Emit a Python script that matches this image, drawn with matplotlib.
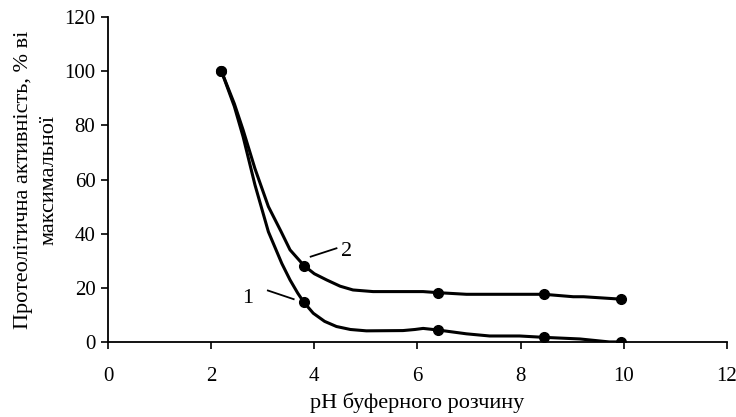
import matplotlib
matplotlib.use("Agg")
import matplotlib.pyplot as plt

plt.rcParams["font.family"] = ["Liberation Serif", "DejaVu Serif"]

# Measured points (markers)
ph_points = [2.2, 3.8, 6.4, 8.45, 9.95]
activity_1 = [100, 14.6, 4.4, 1.7, 0]
activity_2 = [100, 28.2, 18.2, 17.6, 15.8]

# Hand-drawn curve traces
curve1_x = [2.2, 2.45, 2.62, 2.85, 3.11, 3.37, 3.53, 3.68, 3.8, 3.98, 4.2, 4.43,
            4.7, 5.01, 5.72, 5.95, 6.11, 6.4, 6.95, 7.4, 7.98, 8.45, 9.15,
            9.72, 9.95]
curve1_y = [100, 87, 75.8, 58, 40.7, 29, 22.9, 18, 14.6, 10.6, 7.6, 5.7,
            4.6, 4.1, 4.2, 4.6, 5.0, 4.4, 3.0, 2.2, 2.2, 1.7, 1.1,
            0, 0]
curve2_x = [2.2, 2.45, 2.62, 2.85, 3.11, 3.35, 3.53, 3.8, 4.0, 4.24, 4.5, 4.75,
            5.14, 6.11, 6.4, 6.95, 8.45, 9.02, 9.22, 9.95]
curve2_y = [100, 88, 78.3, 64, 50, 41, 34, 28.2, 25.2, 22.9, 20.6, 19.2,
            18.6, 18.6, 18.2, 17.6, 17.6, 16.7, 16.7, 15.8]

fig = plt.figure(figsize=(7.36, 4.17), dpi=100)
ax = fig.add_axes([0.1467, 0.180, 0.841, 0.779])

ax.plot(curve1_x, curve1_y, color="black", lw=2.2, solid_joinstyle="round")
ax.plot(curve2_x, curve2_y, color="black", lw=2.2, solid_joinstyle="round")
ax.plot(ph_points, activity_1, "o", color="black", ms=7)
ax.plot(ph_points, activity_2, "o", color="black", ms=7)

# curve labels with leader lines
ax.plot([3.10, 3.60], [19.0, 15.8], color="black", lw=1.3)
ax.text(2.71, 16.2, "1", fontsize=16, ha="center", va="center")
ax.plot([3.93, 4.43], [31.5, 34.6], color="black", lw=1.3)
ax.text(4.63, 33.3, "2", fontsize=16, ha="center", va="center")

ax.set_xlim(0, 12)
ax.set_ylim(0, 120)
ax.set_xticks(range(0, 13, 2))
ax.set_yticks(range(0, 121, 20))
ax.tick_params(direction="out", length=5, width=1.2, labelsize=15)
ax.tick_params(axis="x", pad=13)
ax.tick_params(axis="y", pad=4)
for side in ["top", "right"]:
    ax.spines[side].set_visible(False)
for side in ["left", "bottom"]:
    ax.spines[side].set_linewidth(1.3)

ax.set_xlabel("pH буферного розчину", fontsize=16, labelpad=5)
ax.set_ylabel("Протеолітична активність, % ві\nмаксимальної", fontsize=16,
              linespacing=1.45, labelpad=4)

fig.savefig("out.png", dpi=100)
